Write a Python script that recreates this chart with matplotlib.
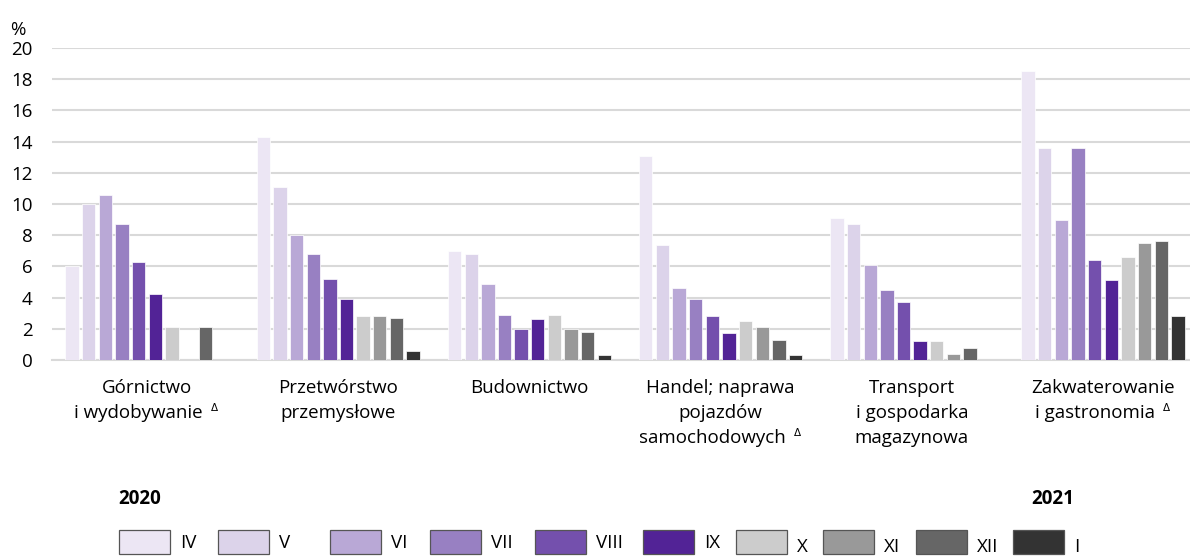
"""Odsetek pracujących zdalnie wg sekcji, 2020-2021 (odtworzenie wykresu)."""

import matplotlib.pyplot as plt
import numpy as np
from matplotlib.patches import Rectangle

plt.rcParams["font.family"] = ["Open Sans", "DejaVu Sans"]

W, H = 1190, 557

categories = [
    ["Górnictwo", "i wydobywanie"],
    ["Przetwórstwo", "przemysłowe"],
    ["Budownictwo"],
    ["Handel; naprawa", "pojazdów", "samochodowych"],
    ["Transport", "i gospodarka", "magazynowa"],
    ["Zakwaterowanie", "i gastronomia"],
]
delta_note = [True, False, False, True, False, True]
months = ["IV", "V", "VI", "VII", "VIII", "IX", "X", "XI", "XII", "I"]
nan = np.nan
# values[month][category]
values = {
    "IV":   [6.0, 14.3, 7.0, 13.1, 9.1, 18.5],
    "V":    [10.0, 11.1, 6.8, 7.4, 8.7, 13.6],
    "VI":   [10.6, 8.0, 4.9, 4.6, 6.1, 9.0],
    "VII":  [8.7, 6.8, 2.9, 3.9, 4.5, 13.6],
    "VIII": [6.3, 5.2, 2.0, 2.8, 3.7, 6.4],
    "IX":   [4.2, 3.9, 2.6, 1.7, 1.2, 5.1],
    "X":    [2.1, 2.8, 2.9, 2.5, 1.2, 6.6],
    "XI":   [nan, 2.8, 2.0, 2.1, 0.4, 7.5],
    "XII":  [2.1, 2.7, 1.8, 1.3, 0.8, 7.6],
    "I":    [nan, 0.6, 0.3, 0.3, nan, 2.8],
}
colors = ["#ece6f4", "#dcd3ea", "#b9a8d6", "#9880c2", "#7450ad",
          "#522396", "#cccccc", "#999999", "#666666", "#333333"]
yticks = [0, 2, 4, 6, 8, 10, 12, 14, 16, 18, 20]

# legend layout (pixels), the original spacing is uneven
legend_left = [119, 218, 330, 430, 535, 643, 736, 823, 916, 1013]
legend_drop = [0, 0, 0, 0, 0, 0, 4, 4, 4, 4]


def main() -> None:
    fig = plt.figure(figsize=(W / 100, H / 100), dpi=100)
    ax = fig.add_axes([52 / W, 1 - 360 / H, (W - 52) / W, 312 / H])

    x = np.arange(len(categories))
    pitch = 0.087
    width = 0.07
    for i, (month, color) in enumerate(zip(months, colors)):
        offset = (i - (len(months) - 1) / 2) * pitch
        ax.bar(x + offset, values[month], width=width, color=color,
               edgecolor="white", linewidth=0.5, zorder=3)

    ax.set_xlim(-0.497, 5.455)
    ax.set_ylim(0, 20)
    ax.set_yticks(yticks)
    ax.tick_params(axis="y", length=0, pad=14, labelsize=13.5)
    ax.set_xticks([])
    ax.grid(axis="y", color="#d9d9d9", linewidth=1.5, zorder=0)
    ax.set_axisbelow(True)
    for side in ("top", "right", "left"):
        ax.spines[side].set_visible(False)
    ax.spines["bottom"].set_color("#d9d9d9")
    ax.spines["bottom"].set_linewidth(1.5)

    # category labels, line by line, with a small delta mark where needed
    trans = ax.get_xaxis_transform()
    for xi, lines, note in zip(x, categories, delta_note):
        for k, line in enumerate(lines):
            last = k == len(lines) - 1
            dx = -6 if (note and last) else 0
            t = ax.annotate(line, xy=(xi, 0), xycoords=trans,
                            xytext=(dx, -23.8 - 18 * k), textcoords="offset points",
                            ha="center", va="baseline", fontsize=13.5)
            if note and last:
                ax.annotate("Δ", xy=(1, 0.5), xycoords=t, xytext=(6, 0),
                            textcoords="offset points", ha="left", va="bottom",
                            fontsize=7.5, family="DejaVu Sans")

    fig.text(10 / W, 1 - 35 / H, "%", fontsize=13.5)
    fig.text(118 / W, 1 - 499 / H, "2020", fontsize=13.5,
             fontweight="bold", va="center")
    fig.text(1031 / W, 1 - 499 / H, "2021", fontsize=13.5,
             fontweight="bold", va="center")

    # legend drawn by hand to keep the original uneven spacing
    for left, drop, color, month in zip(legend_left, legend_drop, colors, months):
        fig.add_artist(Rectangle((left / W, 1 - 554 / H), 51 / W, 24 / H,
                                 transform=fig.transFigure, facecolor=color,
                                 edgecolor="#555555", linewidth=0.9))
        fig.text((left + 61) / W, 1 - (543 + drop) / H, month,
                 fontsize=13.5, va="center")

    fig.savefig("out.png", dpi=100)
    plt.close(fig)


if __name__ == "__main__":
    main()
